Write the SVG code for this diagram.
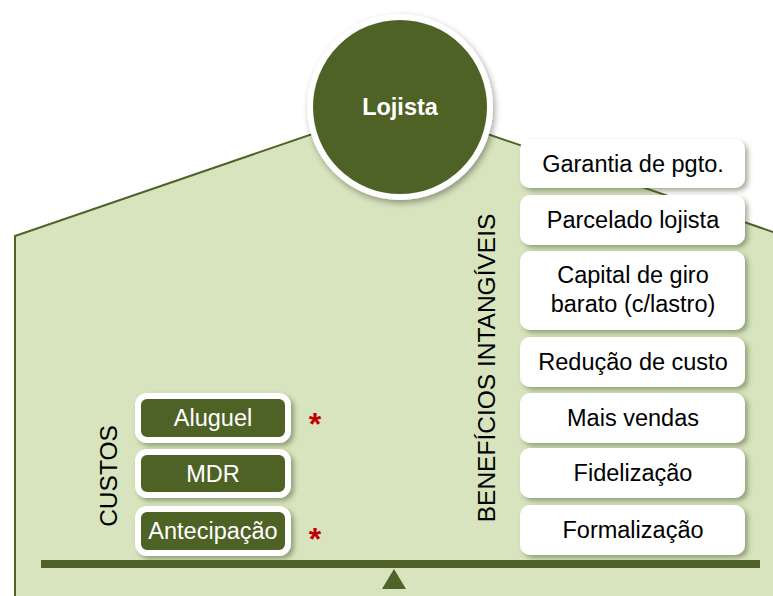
<svg xmlns="http://www.w3.org/2000/svg" width="773" height="596" viewBox="0 0 773 596">
<defs>
<filter id="sh" x="-20%" y="-20%" width="140%" height="150%">
<feDropShadow dx="3" dy="3" stdDeviation="2.5" flood-color="#3d4a20" flood-opacity="0.45"/>
</filter>
<filter id="shc" x="-20%" y="-20%" width="140%" height="140%">
<feDropShadow dx="2" dy="3" stdDeviation="3" flood-color="#000" flood-opacity="0.35"/>
</filter>
</defs>
<style>
text{font-family:"Liberation Sans",Arial,sans-serif;font-size:23.5px;text-anchor:middle}
.wb{fill:#fff;filter:url(#sh)}
.gb{fill:#4F6228;stroke:#fff;stroke-width:6;filter:url(#sh)}
.dk{fill:#000}
.wt{fill:#fff}
.rl{font-size:24.5px}
.ast{fill:#C00000;font-weight:bold;font-size:32px}
</style>
<g id="house">
<polygon points="15,600 15,236 400,104 776,233 776,600" fill="#D7E4BD" stroke="#4F6228" stroke-width="2"/>
</g>
<g id="lojista">
<circle cx="400" cy="107" r="90" fill="#4F6228" stroke="#fff" stroke-width="6" filter="url(#shc)"/>
<text x="400" y="115" class="wt" style="font-weight:bold">Lojista</text>
</g>
<g id="label-custos">
<text transform="translate(117,476) rotate(-90)" class="dk rl">CUSTOS</text>
</g>
<g id="label-beneficios">
<text transform="translate(495,368) rotate(-90)" class="dk rl">BENEFÍCIOS INTANGÍVEIS</text>
</g>
<g id="aluguel">
<rect x="138" y="396" width="150" height="44" rx="9" class="gb"/>
<text x="213" y="426" class="wt">Aluguel</text>
<text x="315" y="435" class="ast">*</text>
</g>
<g id="mdr">
<rect x="138" y="452" width="150" height="43" rx="9" class="gb"/>
<text x="213" y="482" class="wt">MDR</text>
</g>
<g id="antecipacao">
<rect x="138" y="509" width="150" height="44" rx="9" class="gb"/>
<text x="213" y="539" class="wt">Antecipação</text>
<text x="315" y="550" class="ast">*</text>
</g>
<g id="garantia">
<rect x="520" y="139" width="225" height="49" rx="10" class="wb"/>
<text x="633" y="172" class="dk">Garantia de pgto.</text>
</g>
<g id="parcelado">
<rect x="520" y="195" width="225" height="50" rx="10" class="wb"/>
<text x="633" y="228" class="dk">Parcelado lojista</text>
</g>
<g id="capital">
<rect x="520" y="251" width="225" height="79" rx="10" class="wb"/>
<text x="633" y="283" class="dk">Capital de giro</text>
<text x="633" y="312" class="dk">barato (c/lastro)</text>
</g>
<g id="reducao">
<rect x="520" y="337" width="225" height="50" rx="10" class="wb"/>
<text x="633" y="370" class="dk">Redução de custo</text>
</g>
<g id="mais-vendas">
<rect x="520" y="393" width="225" height="50" rx="10" class="wb"/>
<text x="633" y="426" class="dk">Mais vendas</text>
</g>
<g id="fidelizacao">
<rect x="520" y="448" width="225" height="50" rx="10" class="wb"/>
<text x="633" y="481" class="dk">Fidelização</text>
</g>
<g id="formalizacao">
<rect x="520" y="505" width="225" height="50" rx="10" class="wb"/>
<text x="633" y="538" class="dk">Formalização</text>
</g>
<g id="balance">
<rect x="41" y="560" width="719" height="8" fill="#4F6228"/>
<polygon points="382,589 394,569 406,589" fill="#4F6228"/>
</g>
<g id="connectors"></g>
</svg>
